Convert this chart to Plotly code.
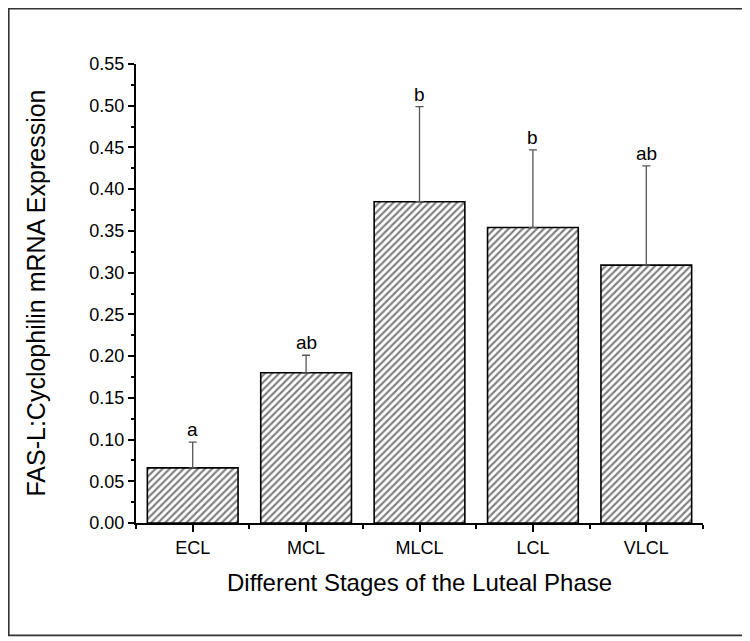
import plotly.graph_objects as go

categories = ["ECL", "MCL", "MLCL", "LCL", "VLCL"]
values = [0.066, 0.180, 0.385, 0.354, 0.309]
errors = [0.031, 0.021, 0.114, 0.093, 0.119]
letters = ["a", "ab", "b", "b", "ab"]
y_ticks = [0.00, 0.05, 0.10, 0.15, 0.20, 0.25, 0.30, 0.35, 0.40, 0.45, 0.50, 0.55]

xpos = list(range(len(categories)))
FONT = "Arial, Liberation Sans, Helvetica, sans-serif"

fig = go.Figure()
fig.add_trace(go.Bar(
    x=xpos, y=values, width=0.8,
    marker=dict(
        color="white",
        line=dict(color="black", width=1.6),
        pattern=dict(shape="/", fgcolor="black", bgcolor="white", size=5, solidity=0.42),
    ),
    error_y=dict(type="data", symmetric=False, array=errors, arrayminus=[0] * len(errors),
                 color="#555555", thickness=1.3, width=4),
    showlegend=False,
))

for x, v, e, t in zip(xpos, values, errors, letters):
    fig.add_annotation(x=x, y=v + e, text=t, showarrow=False, yanchor="bottom",
                       yshift=0, font=dict(family=FONT, size=19, color="black"))

fig.add_annotation(xref="paper", yref="paper", x=-0.178, y=0.5, text="FAS-L:Cyclophilin mRNA Expression",
                   textangle=-90, showarrow=False, xanchor="center", yanchor="middle",
                   font=dict(family=FONT, size=25, color="black"))
fig.add_annotation(xref="paper", yref="paper", x=0.5, y=-0.129, text="Different Stages of the Luteal Phase",
                   showarrow=False, xanchor="center", yanchor="middle",
                   font=dict(family=FONT, size=24, color="black"))

# outer frame (page offset of 8px from body margin compensated)
fig.add_shape(type="rect", xref="paper", yref="paper", x0=-0.2245, x1=1.071, y0=-0.245, y1=1.1205,
              line=dict(color="#333333", width=1.8), fillcolor="rgba(0,0,0,0)")

fig.update_xaxes(
    range=[-0.5, 4.5], tickmode="array", tickvals=xpos, ticktext=categories,
    showline=True, linecolor="black", linewidth=2, mirror=False,
    ticks="outside", ticklen=7, tickwidth=1.5, tickcolor="black",
    minor=dict(tickmode="array", tickvals=[-0.5, 0.5, 1.5, 2.5, 3.5, 4.5], ticks="outside",
               ticklen=4, tickwidth=1.5, tickcolor="black"),
    showgrid=False, zeroline=False,
    tickfont=dict(family=FONT, size=18, color="black"),
)
fig.update_yaxes(
    range=[0, 0.55], tickmode="array", tickvals=y_ticks,
    ticktext=[f"{v:.2f}" for v in y_ticks],
    showline=True, linecolor="black", linewidth=2,
    ticks="outside", ticklen=6, tickwidth=1.5, tickcolor="black",
    minor=dict(tickmode="array", tickvals=[0.025 + 0.05 * i for i in range(11)], ticks="outside",
               ticklen=3, tickwidth=1.5, tickcolor="black"),
    showgrid=False, zeroline=False,
    tickfont=dict(family=FONT, size=18, color="black"),
)

fig.update_layout(
    width=742, height=633,
    margin=dict(l=128, r=47, t=56, b=118),
    plot_bgcolor="white", paper_bgcolor="white",
    bargap=0.2,
)

fig.write_html("out.html")
